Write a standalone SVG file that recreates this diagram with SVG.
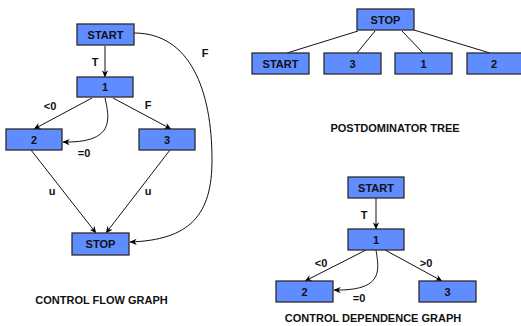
<svg xmlns="http://www.w3.org/2000/svg" width="521" height="326" viewBox="0 0 521 326">
  <defs>
    <marker id="arr" viewBox="0 0 10 10" refX="9.5" refY="5" markerWidth="7" markerHeight="7" markerUnits="userSpaceOnUse" orient="auto">
      <path d="M0,0.5 L10,5 L0,9.5 L3,5 Z" fill="#000"/>
    </marker>
  </defs>
  <style>
    .box { fill: #5f8cff; stroke: #2b2b2b; stroke-width: 1.3; }
    .lbl { font-family: "Liberation Sans", Arial, sans-serif; font-weight: bold; font-size: 11px; fill: #111; text-anchor: middle; }
    .title { font-family: "Liberation Sans", Arial, sans-serif; font-weight: bold; font-size: 11px; fill: #111; text-anchor: middle; }
    .edge { fill: none; stroke: #111; stroke-width: 1; }
    .arrow { marker-end: url(#arr); }
  </style>
  <rect width="521" height="326" fill="#fff"/>

  <!-- Control flow graph -->
  <g id="cfg-connectors">
    <path class="edge arrow" d="M105,46 L105,77"/>
    <path class="edge arrow" d="M134,33 C190,33 212,90 212,160 C212,215 190,240 130,242"/>
    <path class="edge arrow" d="M92,98 L34,129"/>
    <path class="edge arrow" d="M113,98 L171,129"/>
    <path class="edge arrow" d="M105,98 C110,120 114,143 63,142"/>
    <path class="edge arrow" d="M31,150 L96,233"/>
    <path class="edge arrow" d="M170,150 L106,233"/>
    <text class="lbl" x="95" y="66">T</text>
    <text class="lbl" x="205" y="57">F</text>
    <text class="lbl" x="50" y="110">&lt;0</text>
    <text class="lbl" x="148" y="109">F</text>
    <text class="lbl" x="84" y="157">=0</text>
    <text class="lbl" x="52" y="195">u</text>
    <text class="lbl" x="148" y="195">u</text>
  </g>
  <g id="cfg-start"><rect class="box" x="77" y="24" width="57" height="21"/><text class="lbl" x="105.5" y="38.7">START</text></g>
  <g id="cfg-1"><rect class="box" x="77" y="77" width="56" height="20"/><text class="lbl" x="105" y="91">1</text></g>
  <g id="cfg-2"><rect class="box" x="6" y="129" width="56" height="21"/><text class="lbl" x="34" y="143.7">2</text></g>
  <g id="cfg-3"><rect class="box" x="139" y="129" width="56" height="21"/><text class="lbl" x="167" y="143.7">3</text></g>
  <g id="cfg-stop"><rect class="box" x="72" y="233" width="57" height="22"/><text class="lbl" x="100.5" y="248.2">STOP</text></g>
  <text class="title" x="101.5" y="304">CONTROL FLOW GRAPH</text>

  <!-- Postdominator tree -->
  <g id="pdt-connectors">
    <path class="edge" d="M358,31 L287,53"/>
    <path class="edge" d="M375,31 L357,53"/>
    <path class="edge" d="M402,31 L423,53"/>
    <path class="edge" d="M414,30 L490,53"/>
  </g>
  <g id="pdt-stop"><rect class="box" x="357" y="9" width="57" height="21"/><text class="lbl" x="385.5" y="23.7">STOP</text></g>
  <g id="pdt-start"><rect class="box" x="252" y="53" width="57" height="21"/><text class="lbl" x="280.5" y="67.7">START</text></g>
  <g id="pdt-3"><rect class="box" x="324" y="53" width="57" height="21"/><text class="lbl" x="352.5" y="67.7">3</text></g>
  <g id="pdt-1"><rect class="box" x="395" y="53" width="57" height="21"/><text class="lbl" x="423.5" y="67.7">1</text></g>
  <g id="pdt-2"><rect class="box" x="467" y="53" width="57" height="21"/><text class="lbl" x="494" y="67.7">2</text></g>
  <text class="title" x="395" y="132">POSTDOMINATOR TREE</text>

  <!-- Control dependence graph -->
  <g id="cdg-connectors">
    <path class="edge arrow" d="M376,198 L376,229"/>
    <path class="edge arrow" d="M366,250 L305,281"/>
    <path class="edge arrow" d="M385,250 L442,281"/>
    <path class="edge arrow" d="M376,250 C379,270 384,291 334,290"/>
    <text class="lbl" x="364" y="219">T</text>
    <text class="lbl" x="321" y="267">&lt;0</text>
    <text class="lbl" x="426" y="267">&gt;0</text>
    <text class="lbl" x="359" y="302">=0</text>
  </g>
  <g id="cdg-start"><rect class="box" x="348" y="177" width="56" height="21"/><text class="lbl" x="376" y="191.7">START</text></g>
  <g id="cdg-1"><rect class="box" x="348" y="229" width="56" height="21"/><text class="lbl" x="376" y="243.7">1</text></g>
  <g id="cdg-2"><rect class="box" x="276" y="281" width="57" height="21"/><text class="lbl" x="304.5" y="295.7">2</text></g>
  <g id="cdg-3"><rect class="box" x="419" y="281" width="57" height="21"/><text class="lbl" x="447.5" y="295.7">3</text></g>
  <text class="title" x="373" y="322">CONTROL DEPENDENCE GRAPH</text>
</svg>
